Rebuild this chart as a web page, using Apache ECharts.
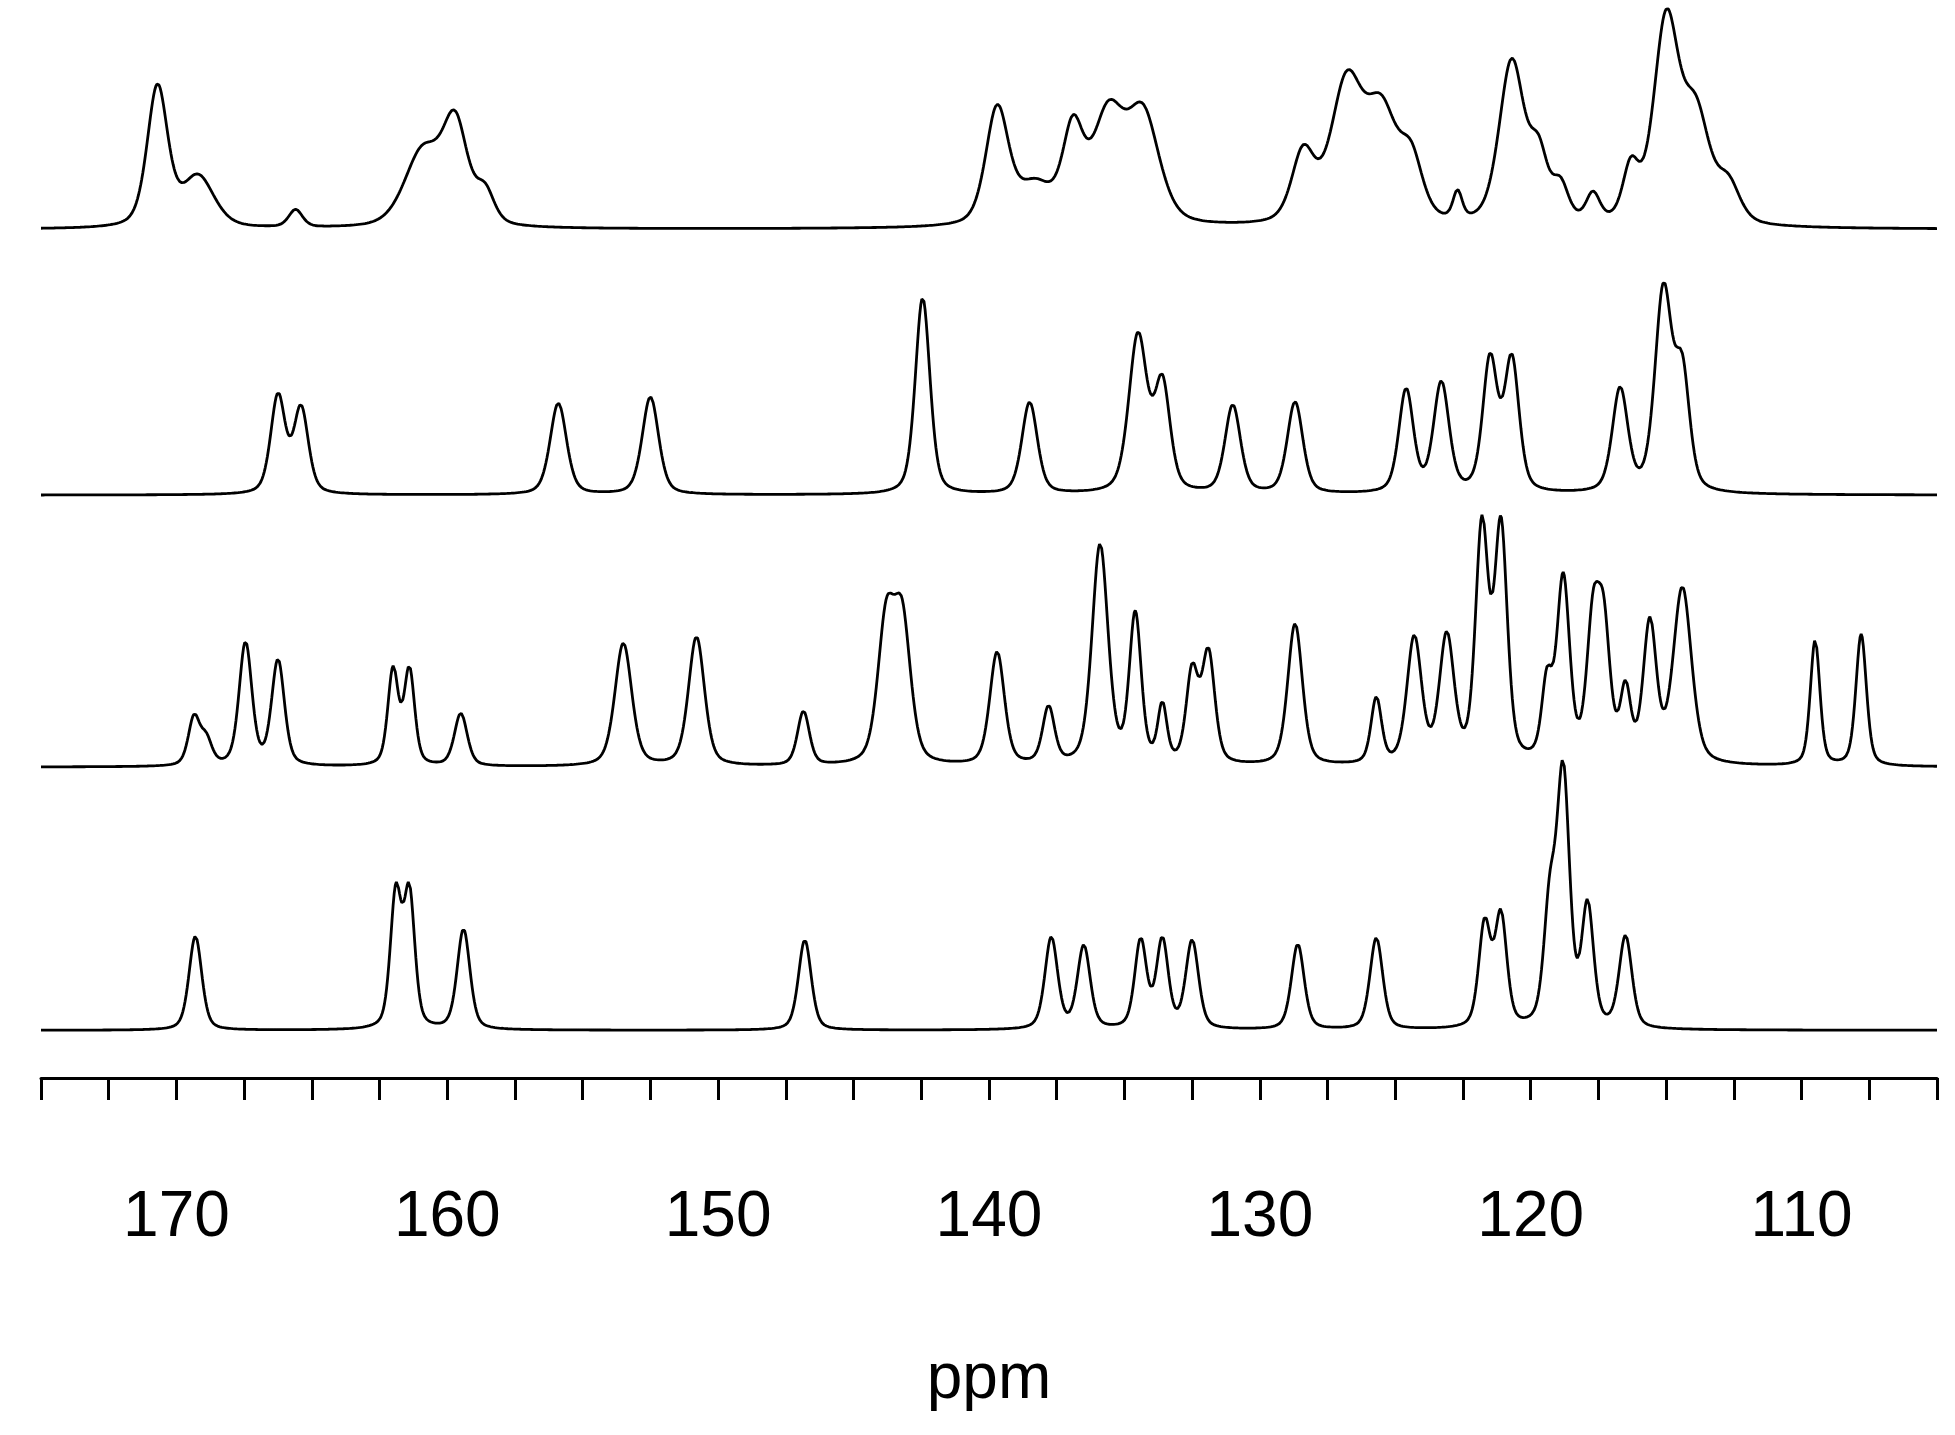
<!DOCTYPE html><html><head><meta charset="utf-8">
<script src="https://cdn.jsdelivr.net/npm/echarts@6/dist/echarts.min.js"></script>
<style>html,body{margin:0;background:#fff}#c{width:1955px;height:1435px}</style></head><body><div id="c"></div>
<script>
// Peak lists: [ppm, height, half-width ppm]
const trace1Baseline = 677, trace2Baseline = 465, trace3Baseline = 248, trace4Baseline = 38;
const trace1Peaks = [[170.7,112,0.45],[169.2,40,0.7],[165.6,14,0.3],[160.9,60,0.8],[159.7,78,0.55],[158.6,25,0.4],
 [139.7,92,0.5],[138.3,30,0.8],[136.9,70,0.45],[135.6,85,0.7],[134.3,85,0.7],
 [128.4,55,0.5],[126.8,110,0.7],[125.5,85,0.7],[124.4,45,0.5],[122.7,22,0.2],
 [120.7,130,0.55],[119.7,50,0.4],[118.9,28,0.35],[117.7,22,0.3],
 [116.3,42,0.35],[115.0,160,0.55],[113.9,85,0.6],[112.7,30,0.5]];
const trace2Peaks = [[166.25,78,0.32],[165.4,68,0.32],[155.9,73,0.36],[152.5,78,0.36],[142.45,157,0.32],[138.5,73,0.34],
 [134.5,125,0.4],[133.6,85,0.34],[131.0,70,0.34],[128.7,73,0.34],[124.6,82,0.32],[123.3,87,0.34],
 [121.5,105,0.32],[120.7,105,0.32],[116.7,82,0.34],[115.1,160,0.37],[114.4,90,0.32]];
const trace3Peaks = [[169.35,38,0.25],[168.9,20,0.25],[167.45,98,0.28],[166.25,84,0.28],[162.0,76,0.23],[161.4,76,0.23],[159.5,42,0.28],
 [153.5,98,0.37],[150.8,103,0.35],[146.85,43,0.26],[143.8,110,0.37],[143.2,110,0.37],[139.7,90,0.32],[137.8,45,0.26],
 [135.9,175,0.35],[134.6,118,0.26],[133.6,45,0.2],[132.5,72,0.26],[131.9,88,0.28],[128.7,113,0.32],[125.7,52,0.23],
 [124.3,100,0.32],[123.1,100,0.32],[121.8,185,0.28],[121.1,185,0.28],[119.4,60,0.23],[118.8,145,0.28],
 [117.7,105,0.28],[117.3,100,0.28],[116.5,55,0.23],[115.6,110,0.29],[114.4,140,0.4],[109.5,100,0.21],[107.8,105,0.23]];
const trace4Peaks = [[169.3,75,0.28],[161.9,106,0.24],[161.4,106,0.24],[159.4,80,0.28],[146.8,72,0.28],
 [137.7,73,0.28],[136.5,66,0.28],[134.4,70,0.26],[133.6,70,0.26],[132.5,70,0.28],[128.6,68,0.28],[125.7,73,0.28],
 [121.7,82,0.26],[121.1,88,0.26],[119.3,90,0.26],[118.8,200,0.28],[117.9,95,0.26],[116.5,73,0.28]];
const xTickLabels = [170,160,150,140,130,120,110];

function spectrum(base, peaks){
  const pts=[];
  for(let x=175.0;x>=105.0;x-=0.04){
    let y=base;
    for(const [c,h,w] of peaks){const d=(x-c)/w;y+=h*(0.6*Math.exp(-0.693*d*d)+0.4/(1+d*d));}
    pts.push([+x.toFixed(2),y]);
  }
  return pts;
}
const traces=[[trace1Baseline,trace1Peaks],[trace2Baseline,trace2Peaks],[trace3Baseline,trace3Peaks],[trace4Baseline,trace4Peaks]];
const chart=echarts.init(document.getElementById('c'));
chart.setOption({
  animation:false,
  grid:{left:41,right:18,top:0,bottom:357},
  xAxis:{type:'value',inverse:true,min:105,max:175,interval:2.5,
    axisLine:{lineStyle:{color:'#000',width:3}},
    axisTick:{length:22,lineStyle:{color:'#000',width:3}},
    minorTick:{show:false},splitLine:{show:false},
    axisLabel:{margin:108,fontSize:64,color:'#000',fontFamily:'Liberation Sans',showMinLabel:true,showMaxLabel:true,
      formatter:v=>xTickLabels.includes(Math.round(v*100)/100)?String(v):''},
    name:'ppm',nameLocation:'middle',nameGap:270,nameTextStyle:{fontSize:64,color:'#000',fontFamily:'Liberation Sans'}},
  yAxis:{type:'value',min:0,max:860,show:false},
  series:traces.map(([b,p])=>({type:'line',data:spectrum(b,p),showSymbol:false,lineStyle:{color:'#000',width:2.8}}))
});
</script></body></html>
